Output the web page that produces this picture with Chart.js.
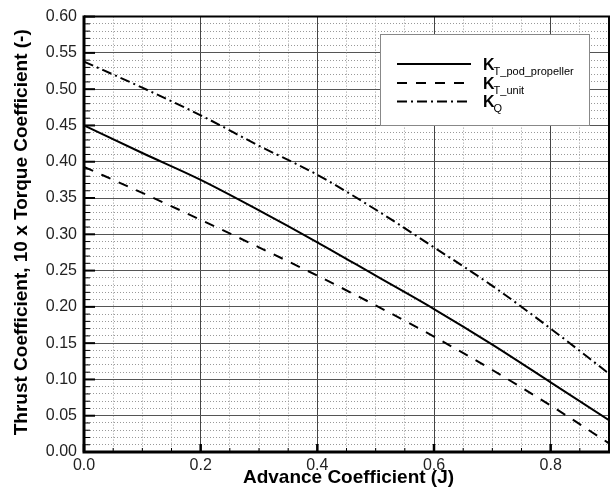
<!DOCTYPE html>
<html>
<head>
<meta charset="utf-8">
<script src="https://cdn.jsdelivr.net/npm/chart.js@4.4.1/dist/chart.umd.min.js"></script>
<style>
html, body { margin: 0; padding: 0; background: #fff; }
#wrap { width: 614px; height: 492px; }
</style>
</head>
<body>
<div id="wrap"><canvas id="kChart" width="614" height="492"></canvas></div>
<script>
// 데이터
const advanceJ = [0.0, 0.1, 0.2, 0.3, 0.4, 0.5, 0.6, 0.7, 0.8, 0.9];
const ktPodPropeller = [0.450, 0.412, 0.375, 0.333, 0.289, 0.243, 0.197, 0.148, 0.096, 0.044];
const ktUnit = [0.393, 0.357, 0.320, 0.282, 0.243, 0.202, 0.159, 0.113, 0.064, 0.012];
const kq = [0.538, 0.502, 0.464, 0.422, 0.382, 0.334, 0.282, 0.229, 0.170, 0.108];

const xTickLabels = ['0.0', '0.2', '0.4', '0.6', '0.8'];
const yTickLabels = ['0.00', '0.05', '0.10', '0.15', '0.20', '0.25', '0.30', '0.35', '0.40', '0.45', '0.50', '0.55', '0.60'];
const legendSubs = ['T_pod_propeller', 'T_unit', 'Q'];

const FONT = '"Liberation Sans", Arial, Helvetica, sans-serif';

const toPoints = ys => advanceJ.map((x, i) => ({ x: x, y: ys[i] }));

const isMajorY = v => Math.round(v * 100) % 5 === 0;
const isMajorX = v => Math.round(v * 100) % 20 === 0;

// 축 테두리, 안쪽 눈금, 축 제목, 범례
const decorPlugin = {
	id: 'decor',
	afterDraw(chart) {
		const ctx = chart.ctx;
		const area = chart.chartArea;
		const xs = chart.scales.x;
		const ys = chart.scales.y;
		ctx.save();
		ctx.strokeStyle = '#000';

		// y 눈금 (안쪽)
		ys.ticks.forEach(t => {
			const py = ys.getPixelForValue(t.value);
			const major = isMajorY(t.value);
			ctx.lineWidth = major ? 2 : 1;
			ctx.beginPath();
			ctx.moveTo(area.left, py);
			ctx.lineTo(area.left + (major ? 11 : 6), py);
			ctx.stroke();
		});
		// x 눈금 (안쪽)
		xs.ticks.forEach(t => {
			const px = xs.getPixelForValue(t.value);
			const major = isMajorX(t.value);
			ctx.lineWidth = major ? 2.5 : 1;
			ctx.beginPath();
			ctx.moveTo(px, area.bottom);
			ctx.lineTo(px, area.bottom - (major ? 8 : 4));
			ctx.stroke();
		});

		// 테두리
		ctx.lineWidth = 2;
		ctx.beginPath();
		ctx.moveTo(area.left, area.top);
		ctx.lineTo(area.right, area.top);
		ctx.lineTo(area.right, area.bottom);
		ctx.stroke();
		ctx.lineWidth = 3;
		ctx.beginPath();
		ctx.moveTo(area.left, area.top - 1);
		ctx.lineTo(area.left, area.bottom);
		ctx.lineTo(area.right + 1, area.bottom);
		ctx.stroke();

		// 축 제목
		ctx.fillStyle = '#000';
		ctx.font = 'bold 19px ' + FONT;
		ctx.textAlign = 'center';
		ctx.textBaseline = 'middle';
		ctx.fillText('Advance Coefficient (J)', (area.left + area.right) / 2 + 2, 478);
		ctx.save();
		ctx.translate(22, (area.top + area.bottom) / 2 - 2);
		ctx.rotate(-Math.PI / 2);
		ctx.fillText('Thrust Coefficient, 10 x Torque Coefficient (-)', 0, 0);
		ctx.restore();

		// 범례
		ctx.fillStyle = '#fff';
		ctx.fillRect(380, 34, 209, 92);
		ctx.strokeStyle = '#888';
		ctx.lineWidth = 1;
		ctx.strokeRect(380.5, 34.5, 209, 91);

		const rows = [69.5, 88.5, 107];
		chart.data.datasets.forEach((ds, i) => {
			const base = rows[i];
			ctx.strokeStyle = '#000';
			ctx.lineWidth = 2;
			ctx.setLineDash(ds.borderDash || []);
			ctx.beginPath();
			ctx.moveTo(397, base - 5.5);
			ctx.lineTo(471, base - 5.5);
			ctx.stroke();
			ctx.setLineDash([]);

			ctx.fillStyle = '#000';
			ctx.textAlign = 'left';
			ctx.textBaseline = 'alphabetic';
			ctx.font = 'bold 16px ' + FONT;
			ctx.fillText('K', 483, base);
			const kw = ctx.measureText('K').width;
			ctx.font = '11px ' + FONT;
			ctx.fillText(legendSubs[i], 483 + kw - 1, base + 5);
		});
		ctx.restore();
	}
};

const ctx = document.getElementById('kChart').getContext('2d');
new Chart(ctx, {
	type: 'line',
	data: {
		datasets: [{
			label: 'KT_pod_propeller',
			data: toPoints(ktPodPropeller),
			borderColor: '#000',
			borderWidth: 2,
			borderDash: [],
		}, {
			label: 'KT_unit',
			data: toPoints(ktUnit),
			borderColor: '#000',
			borderWidth: 2,
			borderDash: [10, 9],
		}, {
			label: 'KQ',
			data: toPoints(kq),
			borderColor: '#000',
			borderWidth: 2,
			borderDash: [10, 4, 2, 4],
		}]
	},
	options: {
		responsive: false,
		animation: false,
		layout: { padding: { left: 0, top: 14, right: 5, bottom: 0 } },
		elements: {
			point: { radius: 0 },
			line: { cubicInterpolationMode: 'monotone', fill: false }
		},
		plugins: {
			legend: { display: false },
			tooltip: { enabled: false }
		},
		scales: {
			x: {
				type: 'linear',
				min: 0,
				max: 0.9,
				afterFit: s => { s.height = 40; },
				border: {
					display: false,
					dash: c => (c.tick && !isMajorX(c.tick.value)) ? [1, 2] : []
				},
				grid: {
					drawTicks: false,
					color: c => (c.tick && isMajorX(c.tick.value)) ? '#444' : '#999',
					lineWidth: 1
				},
				ticks: {
					stepSize: 0.05,
					autoSkip: false,
					maxRotation: 0,
					padding: 4,
					color: '#222',
					font: { family: FONT, size: 16 },
					callback: v => isMajorX(v) ? xTickLabels[Math.round(v * 100) / 20] : ''
				}
			},
			y: {
				min: 0,
				max: 0.6,
				afterFit: s => { s.width = 84; },
				border: {
					display: false,
					dash: c => (c.tick && !isMajorY(c.tick.value)) ? [1, 2] : []
				},
				grid: {
					drawTicks: false,
					color: c => (c.tick && isMajorY(c.tick.value)) ? '#555' : '#999',
					lineWidth: 1
				},
				ticks: {
					stepSize: 0.01,
					autoSkip: false,
					padding: 7,
					color: '#222',
					font: { family: FONT, size: 16 },
					callback: v => isMajorY(v) ? yTickLabels[Math.round(v * 100) / 5] : ''
				}
			}
		}
	},
	plugins: [decorPlugin]
});
</script>
</body>
</html>
